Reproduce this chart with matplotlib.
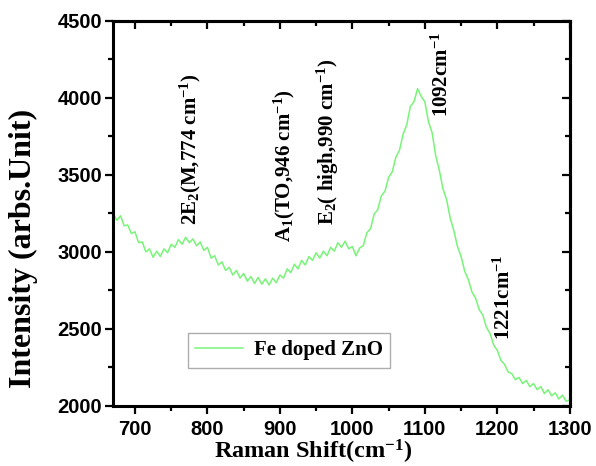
import numpy as np
import matplotlib
matplotlib.use('Agg')
import matplotlib.pyplot as plt

plt.rcParams['mathtext.fontset'] = 'custom'
plt.rcParams['mathtext.rm'] = 'Liberation Serif:bold'
plt.rcParams['mathtext.it'] = 'Liberation Serif:bold'
plt.rcParams['mathtext.bf'] = 'Liberation Serif:bold'

# Raman shift grid (cm^-1) and intensity
shift = np.arange(670, 1301, 5)
intensity = [
    3250, 3205, 3235, 3170, 3175, 3120, 3130, 3060, 3065, 3000,
    3020, 2965, 3005, 2970, 3020, 2995, 3050, 3030, 3080, 3050,
    3095, 3060, 3085, 3040, 3065, 3010, 3030, 2960, 2975, 2915,
    2935, 2880, 2900, 2850, 2880, 2830, 2860, 2810, 2840, 2795,
    2835, 2790, 2825, 2785, 2830, 2800, 2850, 2830, 2890, 2865,
    2920, 2890, 2945, 2915, 2970, 2945, 2995, 2960, 3005, 2975,
    3030, 3005, 3060, 3030, 3070, 3020, 3035, 2975, 3025, 3040,
    3125, 3150, 3245, 3275, 3365, 3395, 3485, 3520, 3615, 3660,
    3765, 3825, 3945, 3975, 4060, 4010, 3975, 3845, 3775, 3625,
    3530, 3410, 3340, 3220, 3140, 3035, 2970, 2875, 2820, 2740,
    2700, 2625, 2590, 2510, 2470, 2395, 2360, 2295, 2270, 2220,
    2210, 2170, 2185, 2145, 2165, 2125, 2145, 2105, 2125, 2080,
    2105, 2065, 2085, 2045, 2070, 2030, 2040,
]

# peak labels: text, x position, bottom of text (data units)
peak_labels = [
    r'2E$_2$(M,774 cm$^{-1}$)',
    r'A$_1$(TO,946 cm$^{-1}$)',
    r'E$_2$( high,990 cm$^{-1}$)',
    r'1092cm$^{-1}$',
    r'1221cm$^{-1}$',
]
peak_x = [776, 906, 966, 1124, 1210]
peak_y = [3175, 3065, 3175, 3877, 2428]

fig = plt.figure(figsize=(5.96, 4.66), dpi=100)
ax = fig.add_axes([0.19, 0.129, 0.766, 0.826])

ax.plot(shift, intensity, color='#78f478', lw=1.1, label='Fe doped ZnO')

for txt, px, py in zip(peak_labels, peak_x, peak_y):
    ax.text(px, py, txt, rotation=90, ha='center', va='bottom',
            fontsize=15, fontfamily='Liberation Serif', fontweight='bold')

ax.set_xlim(670, 1300)
ax.set_ylim(2000, 4500)
ax.set_xticks([700, 800, 900, 1000, 1100, 1200, 1300])
ax.set_xticks(np.arange(700, 1300, 50), minor=True)
ax.set_yticks([2000, 2500, 3000, 3500, 4000, 4500])
ax.set_yticks(np.arange(2000, 4501, 250), minor=True)

for s in ax.spines.values():
    s.set_linewidth(2.2)

ax.tick_params(which='both', direction='out', width=1.6, top=False, right=False)
ax.tick_params(which='major', length=6, pad=2)
ax.tick_params(axis='x', which='major', pad=4)
ax.tick_params(which='minor', length=3.5)
for lab in ax.get_xticklabels() + ax.get_yticklabels():
    lab.set_fontfamily('Liberation Sans')
    lab.set_fontweight('bold')
    lab.set_fontsize(14.5)

top = ax.secondary_xaxis('top')
top.set_xticks([700, 800, 900, 1000, 1100, 1200, 1300])
top.set_xticks(np.arange(700, 1300, 50), minor=True)
top.tick_params(which='both', direction='in', width=1.6, labeltop=False)
top.tick_params(which='major', length=6)
top.tick_params(which='minor', length=3.5)
right = ax.secondary_yaxis('right')
right.set_yticks([2000, 2500, 3000, 3500, 4000, 4500])
right.set_yticks(np.arange(2000, 4501, 250), minor=True)
right.tick_params(which='both', direction='in', width=1.6, labelright=False)
right.tick_params(which='major', length=6)
right.tick_params(which='minor', length=3.5)
for sec in (top, right):
    for s in sec.spines.values():
        s.set_linewidth(2.2)

ax.set_xlabel(r'Raman Shift(cm$^{-1}$)', fontsize=17.5,
              fontfamily='Liberation Serif', fontweight='bold')
ax.xaxis.set_label_coords(0.438, -0.083)
ax.set_ylabel('Intensity (arbs.Unit)', fontsize=23,
              fontfamily='Liberation Serif', fontweight='bold')
ax.yaxis.set_label_coords(-0.165, 0.41)

leg = ax.legend(loc='lower left', bbox_to_anchor=(0.164, 0.099), borderaxespad=0,
                prop={'family': 'Liberation Serif', 'weight': 'bold', 'size': 15},
                fancybox=False, edgecolor='#999999', handlelength=2.3,
                handletextpad=0.5, borderpad=0.35)
leg.get_frame().set_linewidth(1.0)

fig.savefig('out.png', dpi=100)
